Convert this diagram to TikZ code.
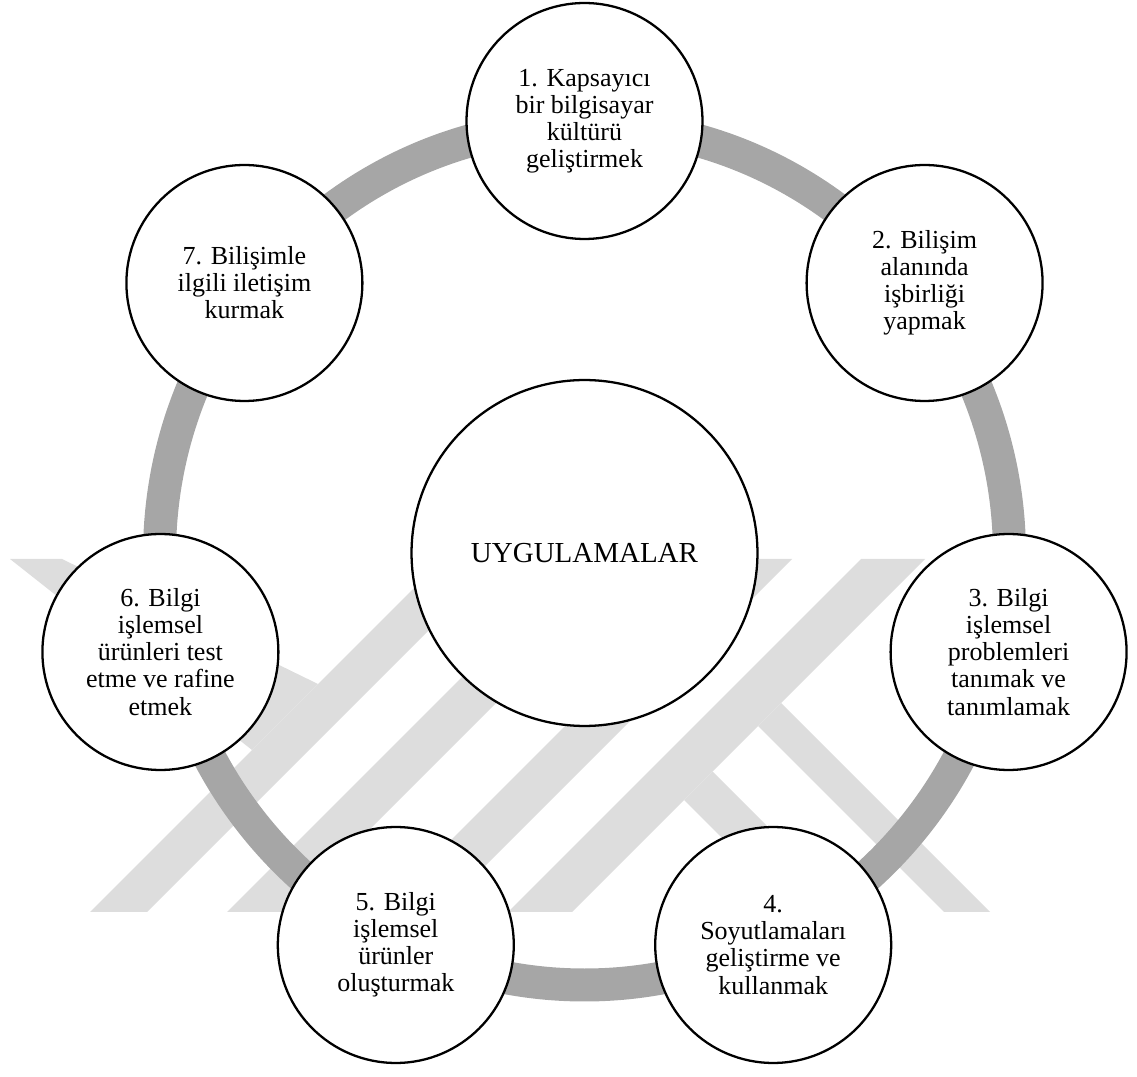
\documentclass[tikz,border=0pt]{standalone}
\usepackage{fontspec}
\setmainfont{Liberation Serif}
\definecolor{ringgray}{HTML}{A6A6A6}
\definecolor{markgray}{HTML}{DDDDDD}
\begin{document}
\begin{tikzpicture}[x=0.02cm,y=-0.02cm,
  stage/.style={circle, draw=black, line width=1.3pt, fill=white,
    minimum size=4.72cm, inner sep=0pt, align=center,
    font=\fontsize{14.8pt}{15.4pt}\selectfont},
  hub/.style={circle, draw=black, line width=1.3pt, fill=white,
    minimum size=6.92cm, inner sep=0pt,
    font=\fontsize{16.5pt}{18pt}\selectfont},
  loopring/.style={draw=ringgray, line width=0.66cm},
  wmband/.style={fill=markgray, draw=none}]
\useasboundingbox (0,0) rectangle (1137,1077);

% background emblem: slanted strokes
\begin{scope}
  \clip (0,559) rectangle (1137,912);
  \fill[wmband] (10,559) -- (62,559) -- (318,684) -- (252,750) -- cycle;
  \fill[wmband] (90,912) -- (147,912) -- (500,559) -- (443,559) -- cycle;
  \fill[wmband] (227,912) -- (287,912) -- (640,559) -- (580,559) -- cycle;
  \fill[wmband] (379,912) -- (439,912) -- (792,559) -- (732,559) -- cycle;
  \fill[wmband] (508,912) -- (572,912) -- (925,559) -- (861,559) -- cycle;
  \fill[wmband] (796,912) -- (853,912) -- (712.5,771.5) -- (684,800) -- cycle;
  \fill[wmband] (944,912) -- (990,912) -- (781,703) -- (758,726) -- cycle;
\end{scope}

% cycle ring
\draw[loopring] (584.5,555) ellipse [x radius=425, y radius=430];

% centre
\node[hub] (hub) at (584.5,553) {UYGULAMALAR};

% stages around the ring
\node[stage] (s1) at (584.5,121) {1. Kapsayıcı\\bir bilgisayar\\kültürü\\geliştirmek};
\node[stage] (s2) at (924.6,283) {2. Bilişim\\alanında\\işbirliği\\yapmak};
\node[stage] (s3) at (1008.6,652) {3. Bilgi\\işlemsel\\problemleri\\tanımak ve\\tanımlamak};
\node[stage] (s4) at (773.2,945) {4.\\Soyutlamaları\\geliştirme ve\\kullanmak};
\node[stage] (s5) at (395.8,945) {5. Bilgi\\işlemsel\\ürünler\\oluşturmak};
\node[stage] (s6) at (160.4,652) {6. Bilgi\\işlemsel\\ürünleri test\\etme ve rafine\\etmek};
\node[stage] (s7) at (244.4,283) {7. Bilişimle\\ilgili iletişim\\kurmak};
\end{tikzpicture}
\end{document}
